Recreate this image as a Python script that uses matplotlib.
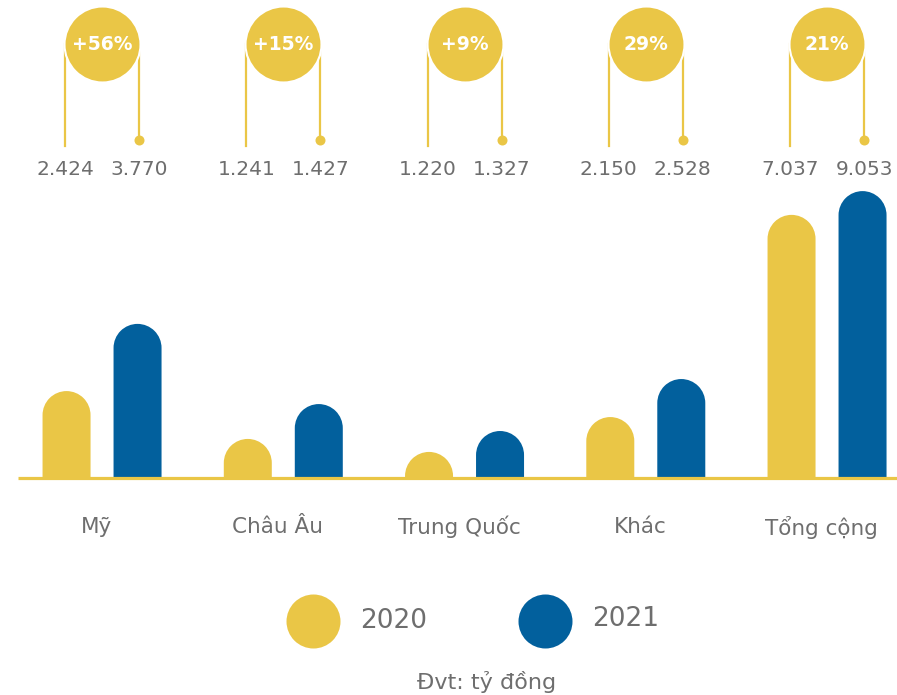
import numpy as np
import matplotlib
matplotlib.use("Agg")
import matplotlib.pyplot as plt
from matplotlib.path import Path
from matplotlib.patches import PathPatch

regions = ["Mỹ", "Châu Âu", "Trung Quốc", "Khác", "Tổng cộng"]
labels_2020 = ["2.424", "1.241", "1.220", "2.150", "7.037"]
labels_2021 = ["3.770", "1.427", "1.327", "2.528", "9.053"]
growth = ["+56%", "+15%", "+9%", "29%", "21%"]
# bar heights as drawn in the source graphic (it is not to scale with the labels)
bar_2020 = [2.74, 1.23, 0.82, 1.92, 8.30]
bar_2021 = [4.86, 2.33, 1.48, 3.12, 9.05]

YELLOW = "#EAC646"
BLUE = "#02609D"
GREY = "#6E6E6E"

plt.rcParams["font.family"] = ["DejaVu Sans"]

fig = plt.figure(figsize=(8.97, 6.95), dpi=100)
ax = fig.add_axes([0, 0, 1, 1])
ax.axis("off")
ax.set_xlim(-0.563, 4.386)
ax.set_ylim(-6.85, 15.08)

# pixels per data unit
px_x = 897 / (4.386 + 0.563)
px_y = 695 / (15.08 + 6.85)

x = np.arange(len(regions))
off = 35.5 / px_x
w = 48 / px_x
r_y = 24 / px_y


def round_bar(xc, h, color):
    # rectangle with a half-circle top, one single path
    arc = Path.arc(0, 180)
    av = arc.vertices * [w / 2, r_y] + [xc, h - r_y]
    verts = [(xc + w / 2, 0)] + list(av) + [(xc - w / 2, 0), (xc + w / 2, 0)]
    codes = [Path.MOVETO, Path.LINETO] + list(arc.codes[1:]) + [Path.LINETO, Path.CLOSEPOLY]
    ax.add_patch(PathPatch(Path(verts, codes), facecolor=color, linewidth=0, zorder=2))


for xs, h, col in [(x - off, bar_2020, YELLOW), (x + off, bar_2021, BLUE)]:
    for xi, hi in zip(xs, h):
        round_bar(xi, hi, col)

# baseline
ax.plot([-0.463, 4.386], [0, 0], color=YELLOW, lw=2.3, solid_capstyle="butt", zorder=3)

# growth bubbles
cy = 13.69
cr = 37 / px_x
for i in range(len(regions)):
    ax.plot([x[i] - cr] * 2, [cy, 10.47], color=YELLOW, lw=1.6, zorder=3)
    ax.plot([x[i] + cr] * 2, [cy, 10.66], color=YELLOW, lw=1.6, zorder=3)
    ax.scatter(x[i] + cr, 10.66, s=(10 * 0.72) ** 2, color=YELLOW, linewidths=0, zorder=3)
    ax.scatter(x[i], cy, s=(76 * 0.72) ** 2, color=YELLOW, edgecolors="white",
               linewidths=1.5, zorder=4)
    ax.text(x[i], cy, growth[i], color="white", fontsize=13.5, fontweight="bold",
            ha="center", va="center", zorder=5)
    ax.text(x[i] - cr, 9.72, labels_2020[i], color=GREY, fontsize=14.5,
            ha="center", va="center")
    ax.text(x[i] + cr, 9.72, labels_2021[i], color=GREY, fontsize=14.5,
            ha="center", va="center")
    ax.text(x[i] - 0.03, -1.55, regions[i], color=GREY, fontsize=15.5,
            ha="center", va="center")

# legend
ax.scatter(1.164, -4.51, s=(54 * 0.72) ** 2, color=YELLOW, linewidths=0)
ax.text(1.424, -4.53, "2020", color=GREY, fontsize=19, ha="left", va="center")
ax.scatter(2.444, -4.51, s=(54 * 0.72) ** 2, color=BLUE, linewidths=0)
ax.text(2.703, -4.45, "2021", color=GREY, fontsize=19, ha="left", va="center")

ax.text(2.124, -6.43, "Đvt: tỷ đồng", color=GREY, fontsize=16, ha="center", va="center")

fig.savefig("out.png", dpi=100)
